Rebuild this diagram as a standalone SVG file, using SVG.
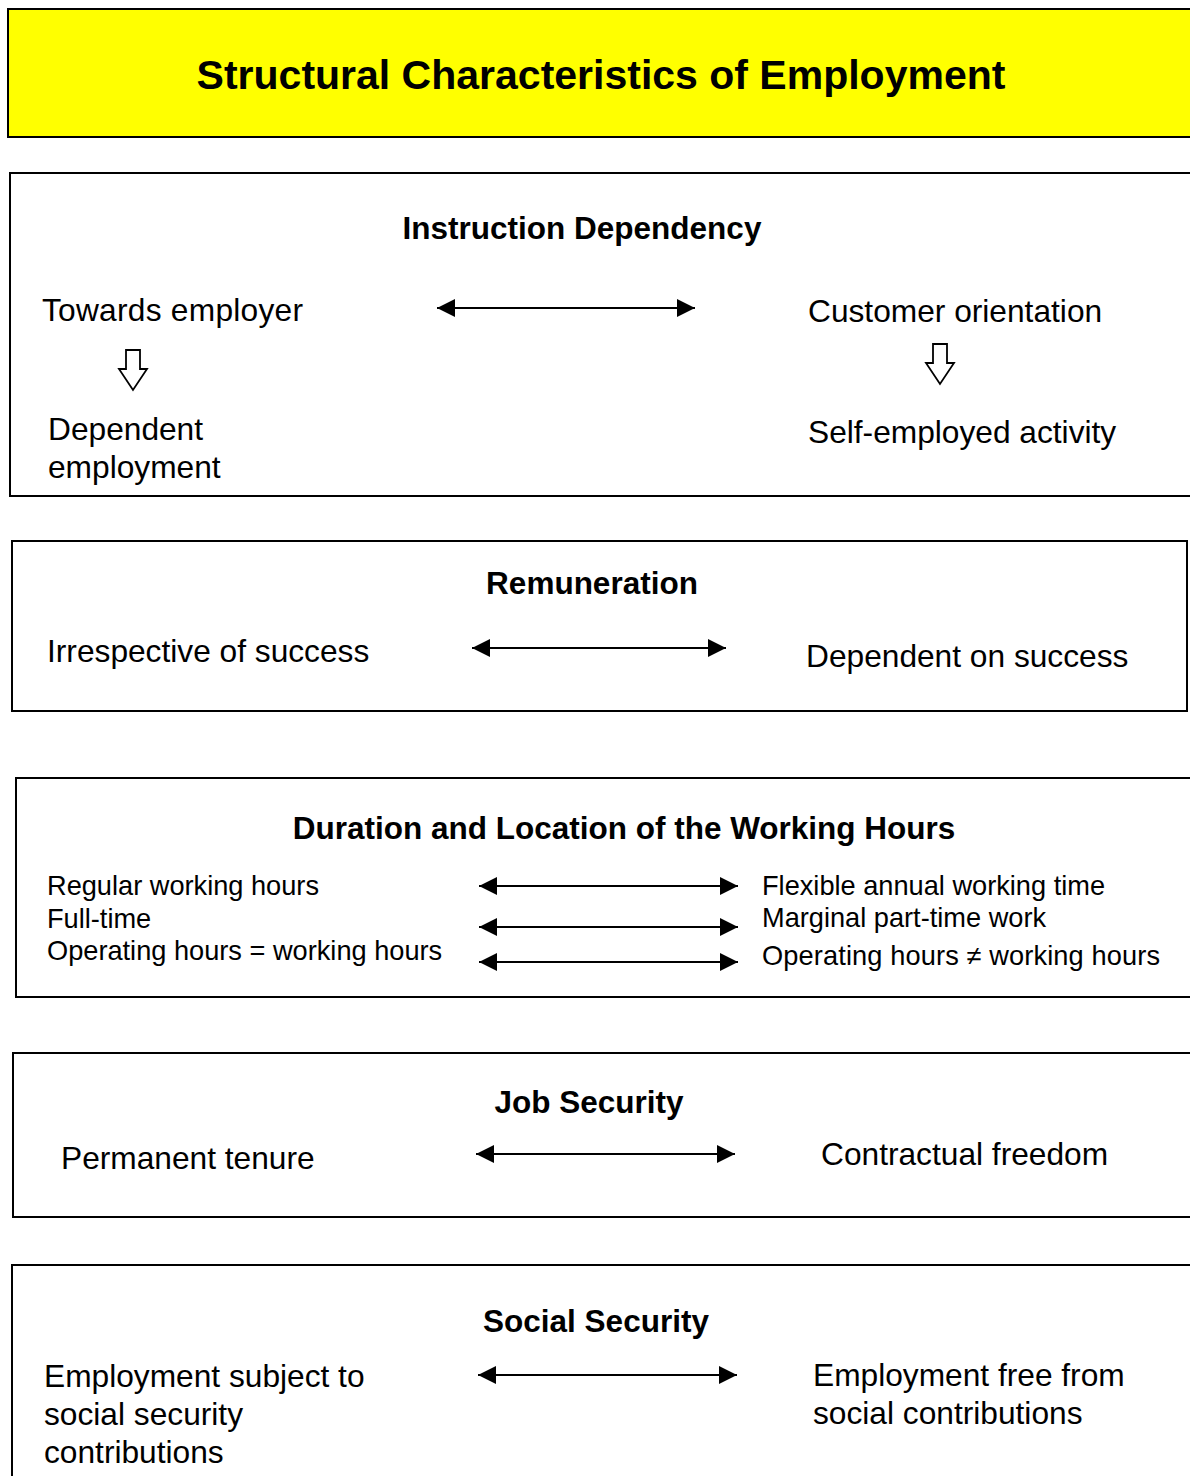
<svg xmlns="http://www.w3.org/2000/svg" width="1190" height="1476" viewBox="0 0 1190 1476">
<style>
.box{fill:#fff;stroke:#000;stroke-width:2}
.title{fill:#ffff00;stroke:#000;stroke-width:2}
text{font-family:"Liberation Sans",Arial,sans-serif;fill:#000}
.t{font-size:41px;font-weight:bold}
.h{font-size:31.5px;font-weight:bold}
.b{font-size:31.7px}
.s{font-size:27.2px}
.conn{stroke:#000;stroke-width:2;fill:none;marker-start:url(#ah);marker-end:url(#ah)}
.hollow{fill:#fff;stroke:#000;stroke-width:1.8}
</style>
<defs>
<marker id="ah" viewBox="0 0 18 18" refX="18" refY="9" markerWidth="18" markerHeight="18" markerUnits="userSpaceOnUse" orient="auto-start-reverse">
<path d="M0,0 L18,9 L0,18 Z" fill="#000"/>
</marker>
<path id="down" d="M-7,0 H7 V19 H14 L0,40 L-14,19 H-7 Z"/>
</defs>

<g id="title">
<rect class="title" x="8" y="9" width="1200" height="128"/>
<text class="t" x="601" y="89" text-anchor="middle">Structural Characteristics of Employment</text>
</g>

<g id="instruction">
<rect class="box" x="10" y="173" width="1200" height="323"/>
<text class="h" x="582" y="239" text-anchor="middle">Instruction Dependency</text>
<text class="b" x="42" y="321" textLength="261">Towards employer</text>
<text class="b" x="808" y="322">Customer orientation</text>
<use href="#down" class="hollow" transform="translate(133,350)"/>
<use href="#down" class="hollow" transform="translate(940,344)"/>
<text class="b" x="48" y="440">Dependent</text>
<text class="b" x="48" y="478">employment</text>
<text class="b" x="808" y="443">Self-employed activity</text>
</g>

<g id="remuneration">
<rect class="box" x="12" y="541" width="1175" height="170"/>
<text class="h" x="592" y="594" text-anchor="middle">Remuneration</text>
<text class="b" x="47" y="662">Irrespective of success</text>
<text class="b" x="806" y="667">Dependent on success</text>
</g>

<g id="duration">
<rect class="box" x="16" y="778" width="1200" height="219"/>
<text class="h" x="624" y="839" text-anchor="middle">Duration and Location of the Working Hours</text>
<text class="s" x="47" y="895">Regular working hours</text>
<text class="s" x="47" y="928">Full-time</text>
<text class="s" x="47" y="960">Operating hours = working hours</text>
<text class="s" x="762" y="895">Flexible annual working time</text>
<text class="s" x="762" y="927">Marginal part-time work</text>
<text class="s" x="762" y="965" textLength="398">Operating hours ≠ working hours</text>
</g>

<g id="jobsecurity">
<rect class="box" x="13" y="1053" width="1200" height="164"/>
<text class="h" x="589" y="1113" text-anchor="middle">Job Security</text>
<text class="b" x="61" y="1169">Permanent tenure</text>
<text class="b" x="821" y="1165">Contractual freedom</text>
</g>

<g id="socialsecurity">
<rect class="box" x="12" y="1265" width="1200" height="260"/>
<text class="h" x="596" y="1332" text-anchor="middle">Social Security</text>
<text class="b" x="44" y="1387">Employment subject to</text>
<text class="b" x="44" y="1425">social security</text>
<text class="b" x="44" y="1463">contributions</text>
<text class="b" x="813" y="1386">Employment free from</text>
<text class="b" x="813" y="1424">social contributions</text>
</g>

<g id="connectors">
<line class="conn" x1="437" y1="308" x2="695" y2="308"/>
<line class="conn" x1="472" y1="648" x2="726" y2="648"/>
<line class="conn" x1="479" y1="886" x2="738" y2="886"/>
<line class="conn" x1="479" y1="927" x2="738" y2="927"/>
<line class="conn" x1="479" y1="962" x2="738" y2="962"/>
<line class="conn" x1="476" y1="1154" x2="735" y2="1154"/>
<line class="conn" x1="478" y1="1375" x2="737" y2="1375"/>
</g>
</svg>
